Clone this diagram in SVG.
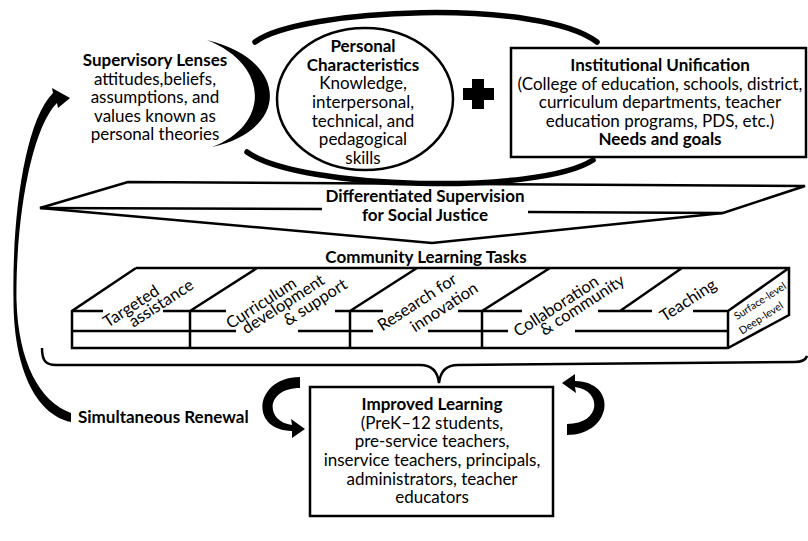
<svg xmlns="http://www.w3.org/2000/svg" width="808" height="541" viewBox="0 0 808 541">
<style>
text{font-family:Lato,"Liberation Sans",sans-serif;font-size:17px;fill:#000;text-anchor:middle}
.b{font-weight:bold}
.ln{fill:none;stroke:#000;stroke-width:2.5;stroke-linecap:butt;stroke-linejoin:miter}
.arc{fill:none;stroke:#000;stroke-width:5.5;stroke-linecap:round}
.blk{fill:#000;stroke:none}
.tk{font-size:16.5px}
.sm{font-size:10.5px}
</style>
<rect width="808" height="541" fill="#fff"/>

<g id="supervisory-lenses">
<path class="blk" d="M207,40 C290,60 290,130 212,147 C270,125 270,65 207,40 Z"/>
<text x="155" y="66" class="b">Supervisory Lenses</text>
<text x="155" y="85">attitudes,beliefs,</text>
<text x="155" y="103">assumptions, and</text>
<text x="155" y="122">values known as</text>
<text x="155" y="140">personal theories</text>
</g>

<g id="personal-characteristics">
<ellipse cx="365" cy="99" rx="88" ry="71" class="ln"/>
<text x="363" y="52" class="b">Personal</text>
<text x="363" y="71" class="b">Characteristics</text>
<text x="363" y="89">Knowledge,</text>
<text x="363" y="108">interpersonal,</text>
<text x="363" y="127">technical, and</text>
<text x="363" y="145">pedagogical</text>
<text x="363" y="164">skills</text>
</g>

<g id="plus">
<path class="blk" d="M472,79 H484 V88 H494 V100 H484 V109 H472 V100 H463 V88 H472 Z"/>
</g>

<g id="institutional-unification">
<rect x="511" y="48" width="295" height="109" class="ln"/>
<text x="660" y="71" class="b">Institutional Unification</text>
<text x="660" y="90">(College of education, schools, district,</text>
<text x="660" y="108">curriculum departments, teacher</text>
<text x="660" y="127">education programs, PDS, etc.)</text>
<text x="660" y="145" class="b">Needs and goals</text>
</g>

<g id="differentiated-supervision">
<polygon points="128,182 805,186 723,213 432,243 40,208" class="ln"/>
<line x1="40" y1="208" x2="322" y2="209" class="ln"/>
<line x1="528" y1="212" x2="723" y2="213" class="ln"/>
<text x="425" y="202" class="b">Differentiated Supervision</text>
<text x="425" y="221" class="b">for Social Justice</text>
</g>

<g id="community-learning-tasks">
<text x="426" y="263" class="b">Community Learning Tasks</text>
<path class="ln" d="M136,268 H789 V315 L728,348 H72 V311 L136,268 M190,311 L257,268 M350,311 L417,268 M482,311 L550,268 M620,311 L682,268 M728,311 L789,268 M728,311 V348 M190,311 V348 M350,311 V348 M482,311 V348 M72,311 H103 M163,311 H226 M335,311 H383 M458,311 H522 M598,311 H652 M693,311 H728 M72,331 H236 M298,331 H373 M428,331 H508 M575,331 H728"/>
<text class="tk" transform="translate(131,306) rotate(-33)" dy="0.35em">Targeted</text>
<text class="tk" transform="translate(161,303) rotate(-33)" dy="0.35em">assistance</text>
<text class="tk" transform="translate(261,303) rotate(-33)" dy="0.35em">Curriculum</text>
<text class="tk" transform="translate(283,304) rotate(-33)" dy="0.35em">development</text>
<text class="tk" transform="translate(315,302) rotate(-33)" dy="0.35em">&amp; support</text>
<text class="tk" transform="translate(417,302) rotate(-33)" dy="0.35em">Research for</text>
<text class="tk" transform="translate(444,307) rotate(-33)" dy="0.35em">innovation</text>
<text class="tk" transform="translate(556,306) rotate(-33)" dy="0.35em">Collaboration</text>
<text class="tk" transform="translate(582,305) rotate(-33)" dy="0.35em">&amp; community</text>
<text class="tk" transform="translate(688,300) rotate(-33)" dy="0.35em">Teaching</text>
<text class="sm" transform="translate(760,301) rotate(-33)" dy="0.35em">Surface-level</text>
<text class="sm" transform="translate(761,318) rotate(-33)" dy="0.35em">Deep-level</text>
</g>

<g id="improved-learning">
<rect x="310" y="387" width="243" height="129" class="ln"/>
<text x="432" y="410" class="b">Improved Learning</text>
<text x="432" y="429">(PreK–12 students,</text>
<text x="432" y="447">pre-service teachers,</text>
<text x="432" y="466">inservice teachers, principals,</text>
<text x="432" y="485">administrators, teacher</text>
<text x="432" y="503">educators</text>
</g>

<g id="simultaneous-renewal">
<text x="78" y="423" class="b" style="text-anchor:start">Simultaneous Renewal</text>
</g>

<g id="connectors">
<path class="arc" d="M255,42 C300,8 540,-2 597,42"/>
<path class="arc" d="M247,152 C300,190 540,195 593,160"/>
<path class="ln" d="M42,348 C42,360 45,365 56,365 L420,365 Q437,365 439,383 Q441,365 458,365 L795,362 C802,362 806,359 807,356"/>
<path class="blk" d="M71,413 C40,402 18,362 16.5,300 C15.5,225 30,130 57,103 L58,108 L70,98 L52,88 L53,93 C24,122 12,220 13.5,300 C13.5,365 34,414 71,422 Z"/>
<path class="blk" d="M300,377 C255,377 248,430 292,431 L292,438 L305,429 L291,419 L292,425 C265,422 265,388 300,388 Z"/>
<path class="blk" d="M567,435 C612,435 619,382 575,381 L575,374 L562,383 L576,393 L575,387 C602,390 602,424 567,424 Z"/>
</g>
</svg>
